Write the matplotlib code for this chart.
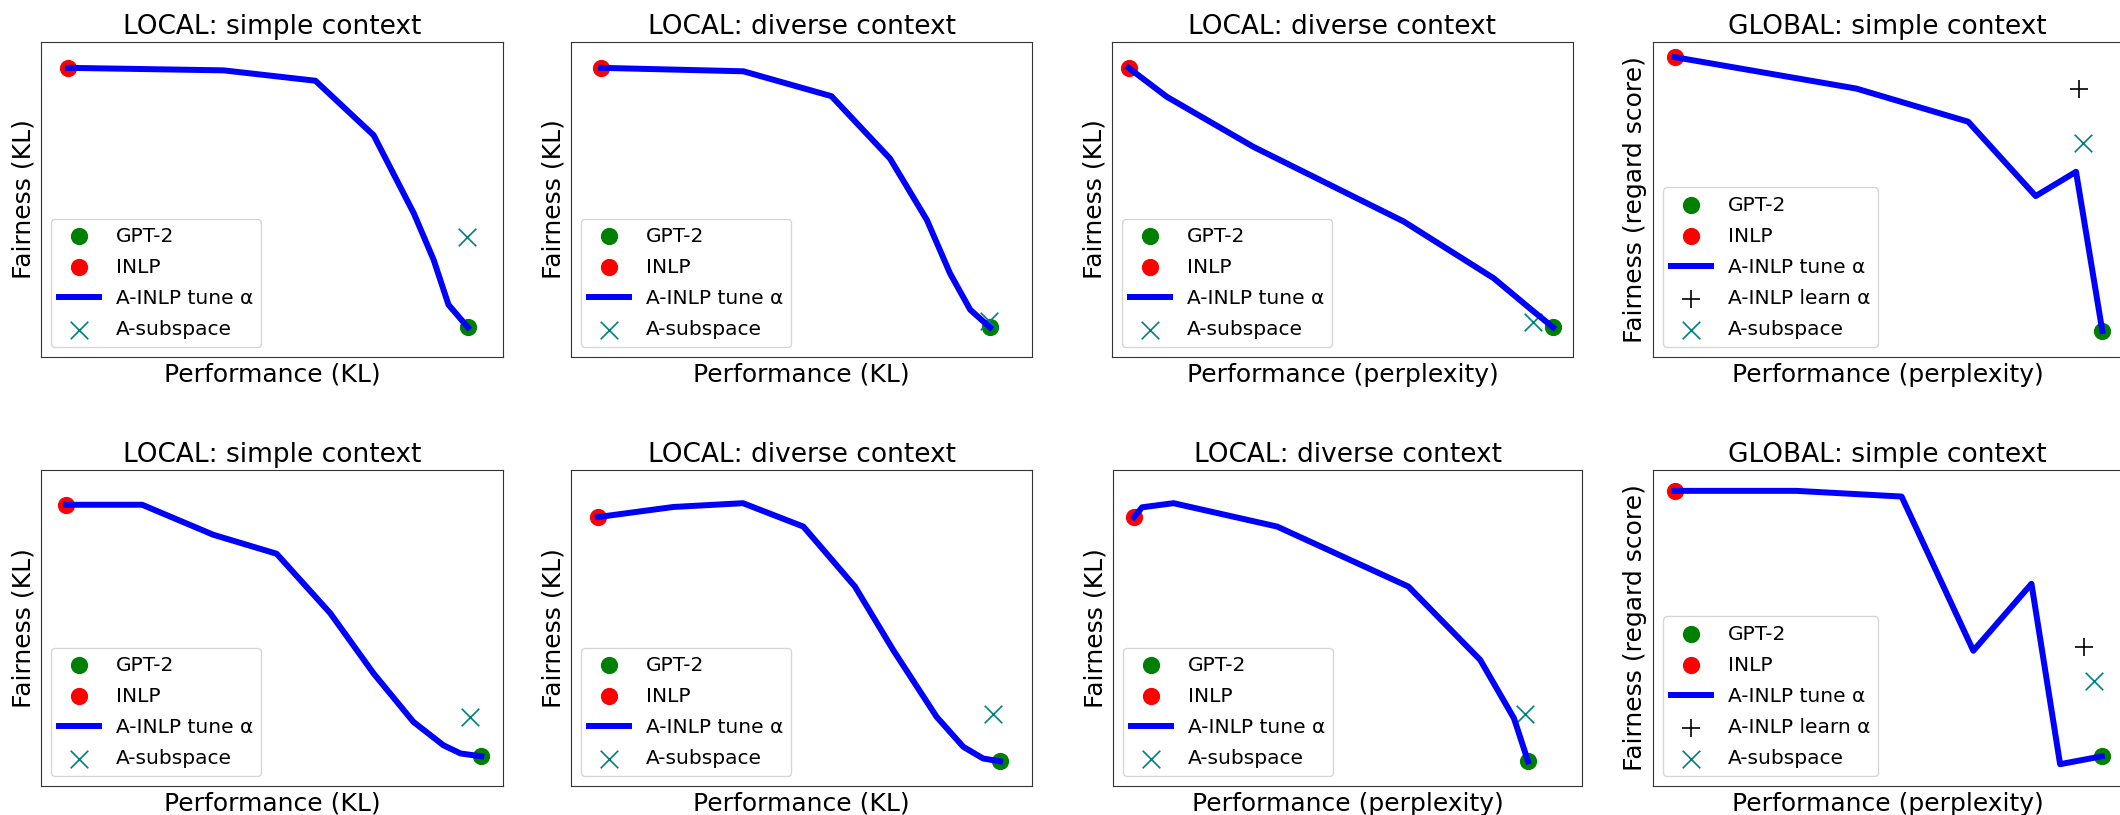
import numpy as np
import matplotlib
matplotlib.use('Agg')
import matplotlib.pyplot as plt

## values (no ticks shown, so axis units are arbitrary 0..1)
titles = ["LOCAL: simple context", "LOCAL: diverse context", "LOCAL: diverse context", "GLOBAL: simple context",
          "LOCAL: simple context", "LOCAL: diverse context", "LOCAL: diverse context", "GLOBAL: simple context"]
xlabels = ["Performance (KL)", "Performance (KL)", "Performance (perplexity)", "Performance (perplexity)"] * 2
ylabels = ["Fairness (KL)", "Fairness (KL)", "Fairness (KL)", "Fairness (regard score)"] * 2

# A-INLP tune alpha curves (first point = INLP, last point = GPT-2)
tune_x = [
    [0.058, 0.395, 0.594, 0.720, 0.807, 0.850, 0.882, 0.924],
    [0.065, 0.374, 0.565, 0.692, 0.772, 0.822, 0.866, 0.909],
    [0.036, 0.119, 0.307, 0.633, 0.828, 0.915, 0.957],
    [0.046, 0.434, 0.672, 0.816, 0.902, 0.958],
    [0.054, 0.219, 0.373, 0.510, 0.626, 0.720, 0.806, 0.871, 0.908, 0.953],
    [0.058, 0.222, 0.373, 0.504, 0.616, 0.699, 0.793, 0.851, 0.894, 0.931],
    [0.045, 0.062, 0.129, 0.350, 0.630, 0.783, 0.855, 0.885],
    [0.046, 0.306, 0.530, 0.683, 0.807, 0.868, 0.957],
]
tune_y = [
    [0.918, 0.910, 0.877, 0.704, 0.456, 0.308, 0.166, 0.094],
    [0.918, 0.907, 0.828, 0.630, 0.435, 0.266, 0.150, 0.094],
    [0.918, 0.826, 0.667, 0.430, 0.250, 0.144, 0.094],
    [0.952, 0.852, 0.747, 0.511, 0.588, 0.083],
    [0.890, 0.890, 0.795, 0.735, 0.547, 0.356, 0.203, 0.129, 0.103, 0.094],
    [0.851, 0.883, 0.895, 0.821, 0.631, 0.430, 0.219, 0.124, 0.087, 0.078],
    [0.851, 0.882, 0.895, 0.821, 0.631, 0.399, 0.214, 0.078],
    [0.934, 0.934, 0.916, 0.428, 0.640, 0.069, 0.094],
]
gpt2 = [(0.924, 0.094), (0.909, 0.094), (0.957, 0.094), (0.958, 0.083),
        (0.953, 0.094), (0.931, 0.078), (0.885, 0.078), (0.957, 0.094)]
inlp = [(0.058, 0.918), (0.065, 0.918), (0.036, 0.918), (0.046, 0.952),
        (0.054, 0.890), (0.058, 0.851), (0.045, 0.851), (0.046, 0.934)]
subspace = [(0.921, 0.380), (0.907, 0.113), (0.913, 0.110), (0.916, 0.680),
            (0.929, 0.219), (0.915, 0.229), (0.878, 0.227), (0.941, 0.333)]
learn = [None, None, None, (0.909, 0.852), None, None, None, (0.920, 0.441)]

# axes boxes in pixels of the 2120x815 output: left, top, right, bottom
W, H = 2120.0, 815.0
boxes = [(41, 42, 503, 357), (571, 42, 1032, 357), (1112, 42, 1573, 357), (1653, 42, 2122, 357),
         (41, 470, 503, 786), (571, 470, 1032, 786), (1113, 470, 1582, 786), (1653, 470, 2122, 786)]

plt.rcParams['font.family'] = ['DejaVu Sans']
fig = plt.figure(figsize=(21.2, 8.15), dpi=100)

for i in range(8):
    l, t, r, b = boxes[i]
    ax = fig.add_axes([l / W, 1 - b / H, (r - l) / W, (b - t) / H])
    ax.scatter([gpt2[i][0]], [gpt2[i][1]], s=130, color='green', label='GPT-2')
    ax.scatter([inlp[i][0]], [inlp[i][1]], s=130, color='red', label='INLP')
    ax.plot(tune_x[i], tune_y[i], color='blue', linewidth=4.3, label='A-INLP tune α')
    if learn[i] is not None:
        ax.scatter([learn[i][0]], [learn[i][1]], s=160, marker='+', color='black',
                   linewidths=1.2, label='A-INLP learn α')
    ax.scatter([subspace[i][0]], [subspace[i][1]], s=160, marker='x', color='teal',
               linewidths=1.2, label='A-subspace')
    ax.set_xlim(0, 1)
    ax.set_ylim(0, 1)
    ax.set_xticks([])
    ax.set_yticks([])
    for sp in ax.spines.values():
        sp.set_color('#333333')
    ax.set_title(titles[i], fontsize=19)
    ax.set_xlabel(xlabels[i], fontsize=18)
    ax.set_ylabel(ylabels[i], fontsize=18)
    ax.legend(loc='lower left', fontsize=14.5, scatterpoints=1, labelspacing=0.6)

plt.savefig("out.png", dpi=100)
